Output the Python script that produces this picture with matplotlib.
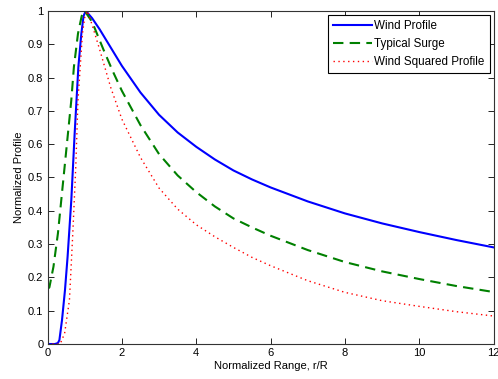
import numpy as np
import matplotlib
matplotlib.use("Agg")
import matplotlib.pyplot as plt

plt.rcParams['font.family'] = ['Liberation Sans', 'DejaVu Sans']

# values
wind_x = [0, 0.2, 0.28, 0.32, 0.39, 0.47, 0.54, 0.64, 0.73, 0.83, 0.91, 0.97, 1.03, 1.2, 1.4, 1.7,
          2.0, 2.5, 3.0, 3.5, 4.0, 4.5, 5.0, 5.5, 6.0, 7.0, 8.0, 9.0, 10.0, 11.0, 12.0]
wind_y = [0, 0, 0.003, 0.012, 0.072, 0.162, 0.262, 0.432, 0.632, 0.832, 0.932, 0.985, 1.0, 0.978, 0.945, 0.89,
          0.835, 0.755, 0.688, 0.635, 0.592, 0.554, 0.521, 0.494, 0.47, 0.428, 0.392, 0.362, 0.336, 0.312, 0.29]

surge_x = [0, 0.05, 0.16, 0.28, 0.37, 0.46, 0.55, 0.64, 0.71, 0.82, 0.92, 1.0, 1.2, 1.5, 1.75,
           2.0, 2.5, 3.0, 3.5, 4.0, 4.5, 5.0, 5.5, 6.0, 7.0, 8.0, 9.0, 10.0, 11.0, 12.0]
surge_y = [0.165, 0.17, 0.232, 0.332, 0.432, 0.532, 0.632, 0.732, 0.832, 0.932, 0.985, 1.0, 0.967, 0.885, 0.82,
           0.76, 0.657, 0.57, 0.506, 0.456, 0.413, 0.377, 0.35, 0.325, 0.282, 0.246, 0.218, 0.195, 0.174, 0.156]

sq_x = [0, 0.34, 0.46, 0.59, 0.68, 0.76, 0.82, 0.94, 1.0, 1.07, 1.2, 1.4, 1.7, 2.0, 2.5,
        3.0, 3.5, 4.0, 4.5, 5.0, 5.5, 6.0, 7.0, 8.0, 9.0, 10.0, 11.0, 12.0]
sq_y = [0, 0, 0.032, 0.132, 0.332, 0.532, 0.732, 0.932, 0.98, 1.0, 0.958, 0.885, 0.77, 0.675, 0.56,
        0.468, 0.405, 0.358, 0.322, 0.29, 0.26, 0.235, 0.19, 0.155, 0.13, 0.113, 0.097, 0.084]

labels = ['Wind Profile', 'Typical Surge', 'Wind Squared Profile']

fig = plt.figure(figsize=(4.98, 3.79), dpi=100)
ax = fig.add_axes([0.0954, 0.0923, 0.896, 0.879])

ax.plot(wind_x, wind_y, color='#0000ff', lw=1.5, label=labels[0])
ax.plot(surge_x, surge_y, color='#008000', lw=1.5, ls=(0, (5, 3)), label=labels[1])
ax.plot(sq_x, sq_y, color='#ff0000', lw=1.0, ls=(0, (1, 2.5)), label=labels[2])

ax.set_xlim(0, 12)
ax.set_ylim(0, 1)
ax.set_xticks(np.arange(0, 13, 2))
ax.set_yticks(np.arange(0, 1.01, 0.1))
ax.set_yticklabels(['0', '0.1', '0.2', '0.3', '0.4', '0.5', '0.6', '0.7', '0.8', '0.9', '1'])
ax.tick_params(direction='in', top=True, right=True, length=4, labelsize=8, width=0.6, pad=3)
for s in ax.spines.values():
    s.set_linewidth(0.8)
    s.set_color('#333333')

ax.set_xlabel('Normalized Range, r/R', fontsize=8, labelpad=2)
ax.set_ylabel('Normalized Profile', fontsize=8, labelpad=3)

leg = ax.legend(loc='upper right', fontsize=8.4, fancybox=False, framealpha=1,
                edgecolor='black', handlelength=3.3, handletextpad=0.2,
                borderpad=0.45, labelspacing=0.5, borderaxespad=0.35)
leg.get_frame().set_linewidth(0.8)

fig.savefig('out.png', dpi=100)
